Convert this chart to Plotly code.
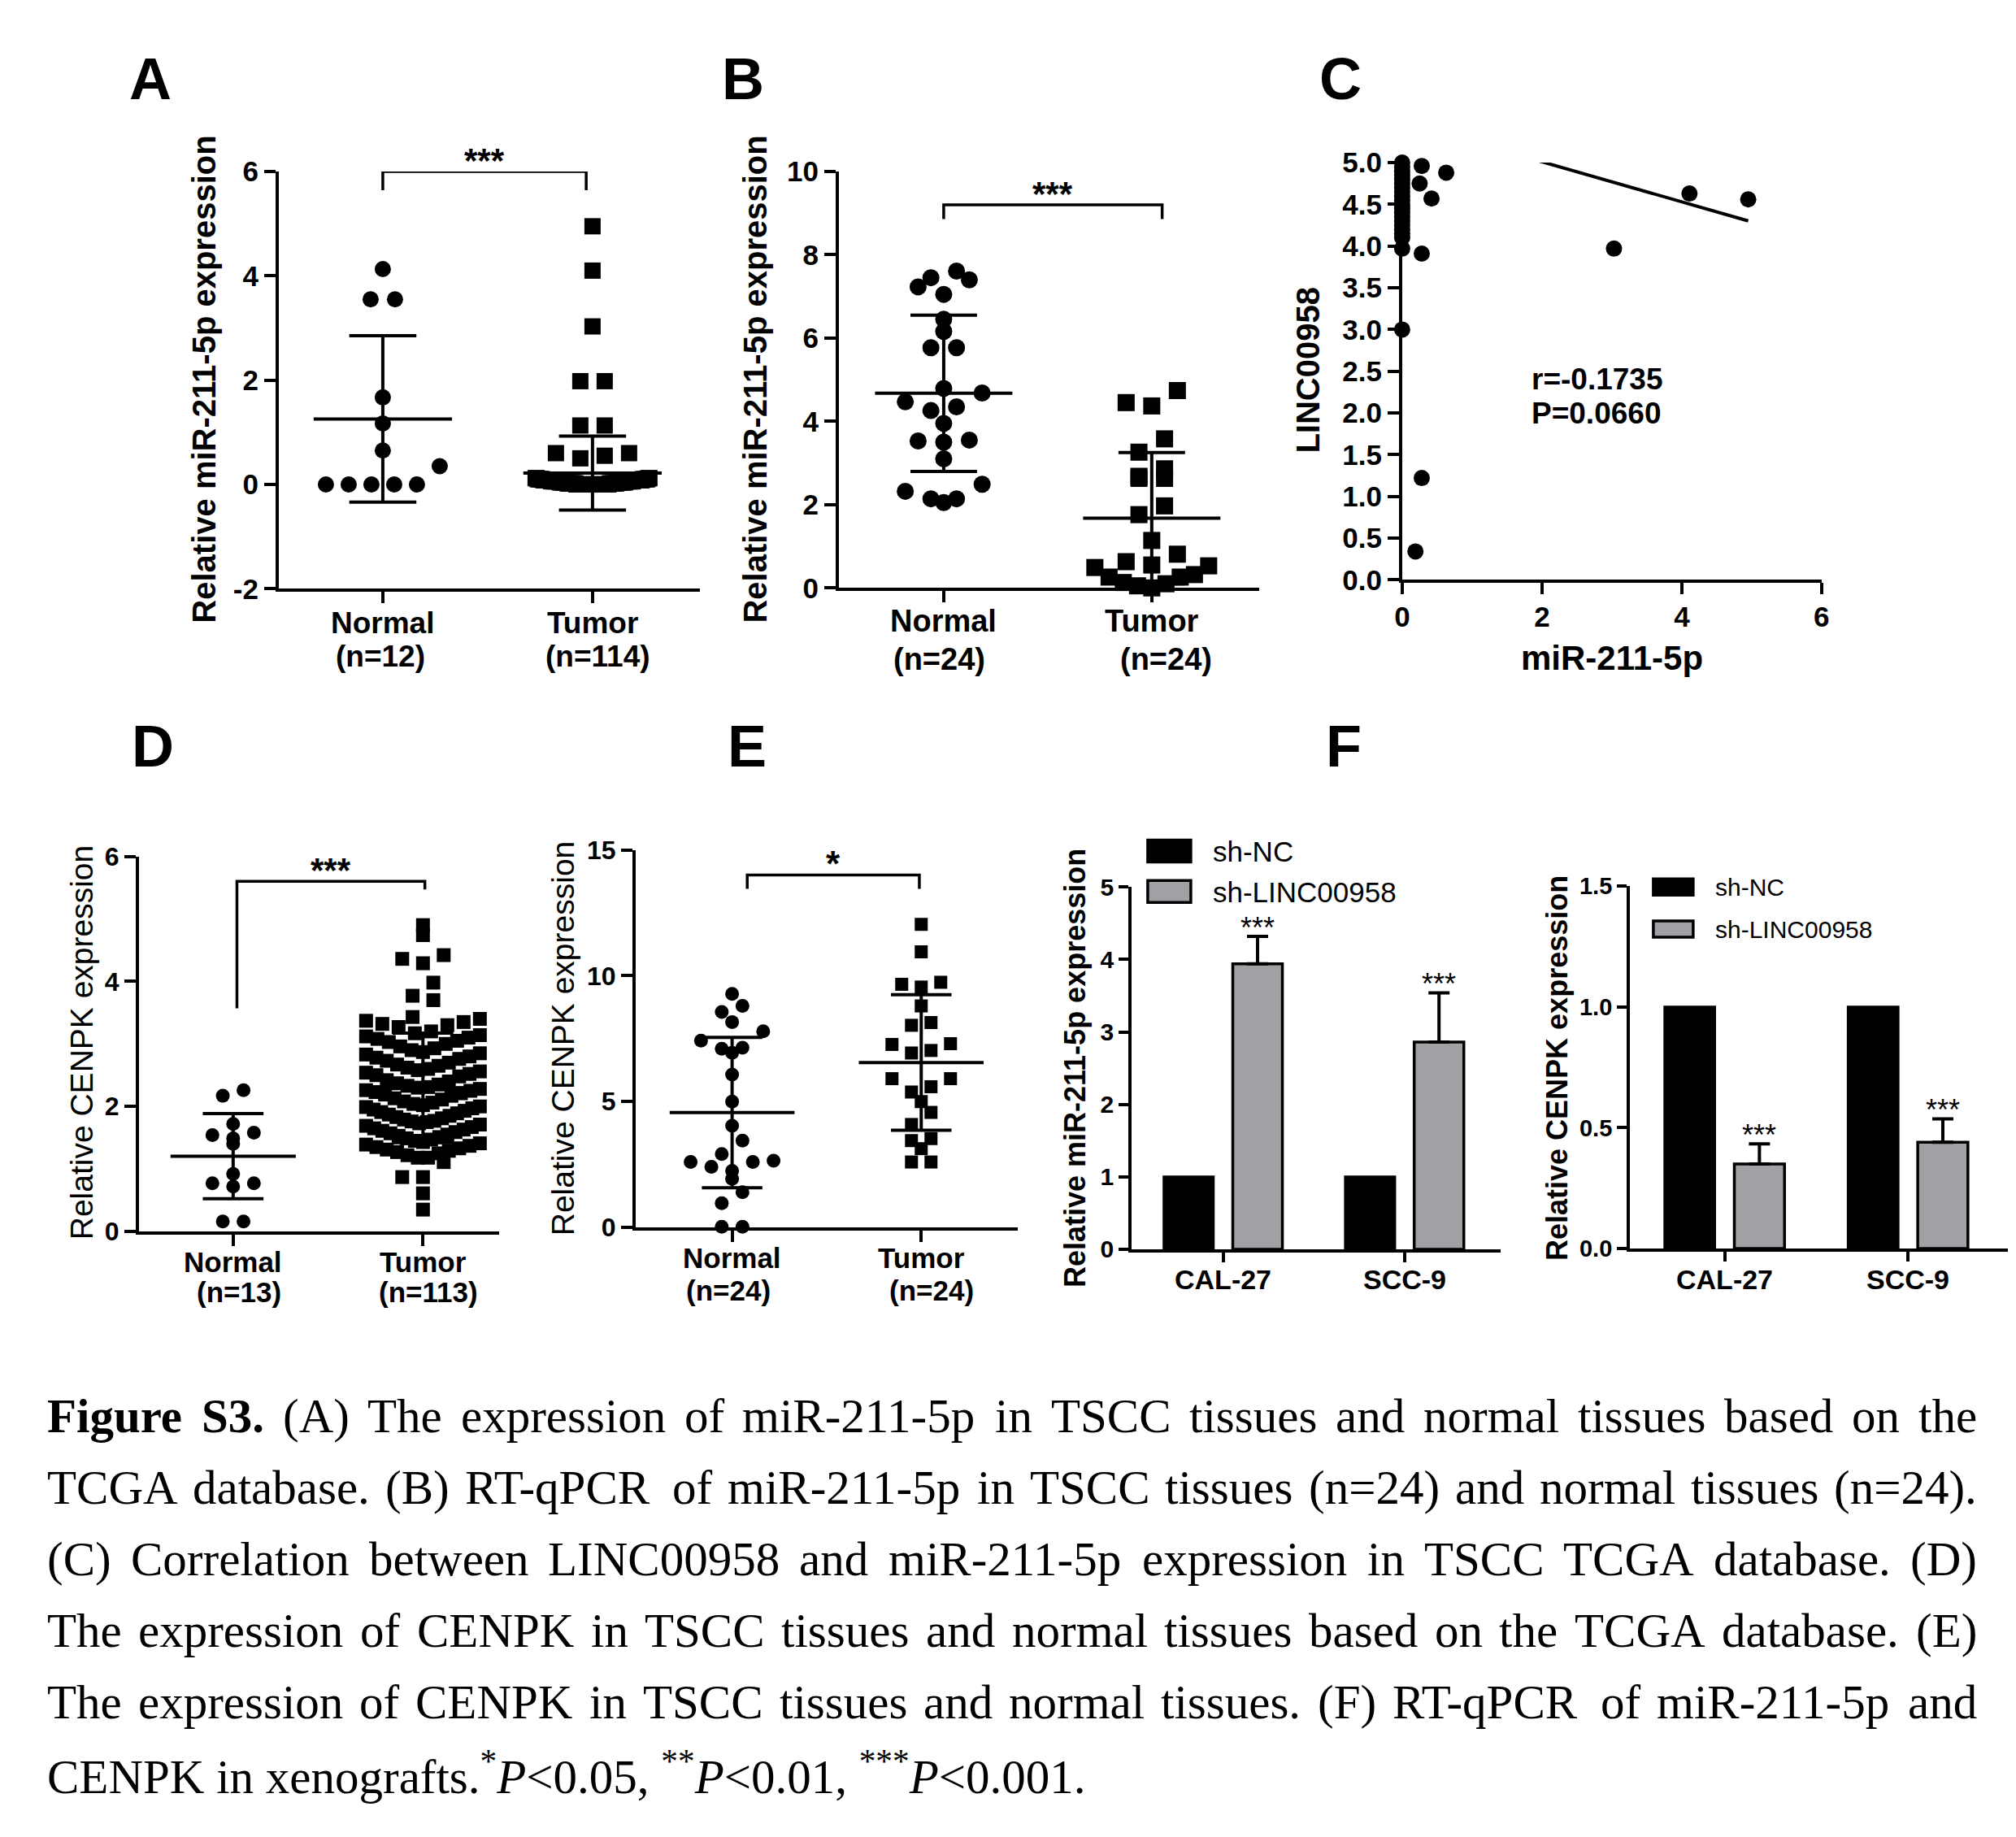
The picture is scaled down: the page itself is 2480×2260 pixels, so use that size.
import numpy as np
import plotly.graph_objects as go

W, H = 2480, 2260
SANS = "Liberation Sans, Arial, sans-serif"
SERIF = "Liberation Serif, Times New Roman, serif"

# ---------------- data ----------------
# A  TCGA miR-211-5p
a_normal = [4.13, 3.55, 3.55, 1.67, 1.17, 0.65, 0.35, 0.0, 0.0, 0.0, 0.0, 0.0]
a_tumor = [4.95, 4.10, 3.03, 1.98, 1.98, 1.13, 1.13, 0.60, 0.50, 0.55, 0.60,
           0.00, 0.00, 0.00, 0.00, 0.00, 0.00, 0.00, 0.00, 0.00, 0.00,
           0.00, 0.00, 0.00, 0.00, 0.00, 0.00, 0.00, 0.00, 0.00, 0.00,
           0.00, 0.00, 0.00, 0.00, 0.00, 0.00, 0.00, 0.00, 0.00, 0.00,
           0.02, 0.02, 0.02, 0.02, 0.02, 0.02, 0.02, 0.02, 0.02, 0.02,
           0.02, 0.02, 0.02, 0.02, 0.02, 0.04, 0.04, 0.04, 0.04, 0.04,
           0.04, 0.04, 0.04, 0.04, 0.04, 0.04, 0.04, 0.04, 0.04, 0.04,
           0.06, 0.06, 0.06, 0.06, 0.06, 0.06, 0.06, 0.06, 0.06, 0.06,
           0.06, 0.06, 0.06, 0.06, 0.06, 0.08, 0.08, 0.08, 0.08, 0.08,
           0.08, 0.08, 0.08, 0.08, 0.08, 0.08, 0.08, 0.08, 0.08, 0.08,
           0.10, 0.10, 0.10, 0.10, 0.10, 0.10, 0.10, 0.10, 0.10, 0.10,
           0.12, 0.12, 0.12, 0.12]
a_groups = ["Normal", "Tumor"]
a_n = ["(n=12)", "(n=114)"]
a_yticks = ["-2", "0", "2", "4", "6"]

# B  RT-qPCR miR-211-5p
b_normal = [7.61, 7.40, 7.23, 7.45, 7.05, 6.45, 6.16, 5.77, 5.77, 4.79, 4.68, 4.47,
            4.35, 4.26, 3.95, 3.55, 3.53, 3.50, 3.10, 2.49, 2.32, 2.14, 2.05, 2.14]
b_tumor = [4.74, 4.45, 4.37, 3.58, 3.26, 2.86, 2.63, 2.63, 2.68, 1.97, 1.76, 1.14,
           0.81, 0.63, 0.55, 0.53, 0.32, 0.49, 0.26, 0.26, 0.10, 0.13, 0.00, 0.05]
b_n = ["(n=24)", "(n=24)"]

# C  correlation LINC00958 vs miR-211-5p
c_mir = [0, 0, 0, 0, 0, 0, 0, 0, 0, 0, 0, 0, 0, 0, 0, 0, 0, 0, 0, 0, 0,
         0.28, 0.63, 0.25, 0.42, 0.28, 0.28, 0.19, 3.03, 4.11, 4.95]
c_linc = [5.00, 4.95, 4.90, 4.85, 4.80, 4.75, 4.70, 4.65, 4.60, 4.55, 4.50, 4.45,
          4.40, 4.35, 4.30, 4.25, 4.20, 4.15, 4.10, 3.97, 3.00,
          4.96, 4.88, 4.75, 4.57, 3.91, 1.22, 0.34, 3.97, 4.63, 4.56]
c_fit = [5.49, -0.24]          # intercept, slope of the drawn regression line
c_stats = ["r=-0.1735", "P=0.0660"]

# D  TCGA CENPK
d_normal = [2.26, 2.17, 1.72, 1.54, 1.49, 1.58, 1.40, 0.92, 0.77, 0.72, 0.77, 0.16, 0.16]
d_tumor = [4.90, 4.74, 4.42, 4.36, 4.29, 3.98, 3.77, 3.70,
           3.43, 3.40, 3.37, 3.35, 3.32, 3.30, 3.27,
           3.20, 3.17, 3.14, 3.12, 3.10, 3.08, 3.05, 3.03, 3.00,
           2.96, 2.93, 2.90, 2.87, 2.85, 2.83, 2.80, 2.78, 2.76, 2.73,
           2.70, 2.67, 2.65, 2.62, 2.60, 2.58, 2.56, 2.54, 2.52, 2.50, 2.48,
           2.42, 2.40, 2.37, 2.35, 2.33, 2.31, 2.30, 2.28, 2.26, 2.25, 2.23, 2.21, 2.19, 2.17,
           2.13, 2.11, 2.08, 2.06, 2.04, 2.02, 2.00, 1.99, 1.97, 1.95, 1.93, 1.91, 1.89, 1.87,
           1.85, 1.83, 1.81, 1.79, 1.77, 1.76, 1.75, 1.73, 1.71, 1.69, 1.67, 1.65, 1.63,
           1.61, 1.59, 1.57, 1.55, 1.53, 1.51, 1.49, 1.47, 1.45, 1.43, 1.41, 1.39,
           1.37, 1.35, 1.33, 1.31, 1.29, 1.27, 1.25, 1.22,
           1.18, 1.18, 1.11, 0.87, 0.87, 0.61, 0.35]
d_n = ["(n=13)", "(n=113)"]

# E  CENPK tissues
e_normal = [9.28, 8.56, 8.80, 8.16, 7.79, 7.42, 7.10, 6.94, 7.14, 6.07, 5.00, 4.04,
            3.45, 2.65, 2.60, 2.25, 2.41, 2.60, 2.92, 1.93, 1.40, 0.96, 0.03, 0.03]
e_tumor = [12.04, 10.95, 9.74, 9.55, 9.66, 8.80, 8.14, 8.03, 7.27, 6.93, 7.03, 7.30,
           5.91, 5.91, 5.59, 5.38, 5.00, 4.57, 4.09, 3.13, 3.53, 3.45, 2.60, 2.60]
e_n = ["(n=24)", "(n=24)"]

# F  xenografts
f_cells = ["CAL-27", "SCC-9"]
f_groups = ["sh-NC", "sh-LINC00958"]
f1_nc = [1.0, 1.0]
f1_sh = [3.94, 2.86]
f1_sh_err = [0.38, 0.68]
f2_nc = [1.0, 1.0]
f2_sh = [0.35, 0.44]
f2_sh_err = [0.083, 0.097]

caption = [
    "Figure S3. (A) The expression of miR-211-5p in TSCC tissues and normal tissues based on the",
    "TCGA database. (B) RT-qPCR of miR-211-5p in TSCC tissues (n=24) and normal tissues (n=24).",
    "(C) Correlation between LINC00958 and miR-211-5p expression in TSCC TCGA database. (D)",
    "The expression of CENPK in TSCC tissues and normal tissues based on the TCGA database. (E)",
    "The expression of CENPK in TSCC tissues and normal tissues. (F) RT-qPCR of miR-211-5p and",
]
caption_last = ("CENPK in xenografts.<sup>*</sup><i>P</i>&lt;0.05, <sup>**</sup><i>P</i>&lt;0.01, "
                "<sup>***</sup><i>P</i>&lt;0.001.")

# ---------------- page geometry ----------------
# the rendered page comes out slightly offset/scaled; map reference pixels to figure pixels
OX, OY, SX, SY = 18, 22, 0.992, 0.988


def fx(p):
    return (p - OX) / SX


def fy(p):
    return (p - OY) / SY


# panel boxes in reference pixels: left, right, top, bottom
BOX = {
    "A": (343, 861, 206, 722), "B": (1032, 1549, 206, 721), "C": (1725, 2241, 195, 711),
    "D": (171, 614, 1053, 1517), "E": (782, 1252, 1045, 1512),
    "F1": (1392, 1846, 1091, 1539), "F2": (2005, 2470, 1090, 1538),
}
XR = {"A": [0.504, 2.512], "B": [0.496, 2.516], "C": [0, 6], "D": [0.504, 2.401],
      "E": [0.49, 2.51], "F1": [-0.505, 1.529], "F2": [-0.517, 1.544]}
YR = {"A": [-2, 6], "B": [0, 10], "C": [0, 5], "D": [0, 6], "E": [0, 15],
      "F1": [0, 5], "F2": [0, 1.5]}
AX = {"A": "", "B": "2", "C": "3", "D": "4", "E": "5", "F1": "6", "F2": "7"}


def dom(k):
    l, r, t, b = BOX[k]
    return [fx(l) / W, fx(r) / W], [1 - fy(b) / H, 1 - fy(t) / H]


def ppu(k):
    l, r, t, b = BOX[k]
    return (r - l) / (XR[k][1] - XR[k][0]), (b - t) / (YR[k][1] - YR[k][0])


def swarm(vals, k, size, max_half=70):
    # Prism-like row layout: bin by height, spread each row centre-out
    xp, yp = ppu(k)
    v = np.asarray(vals, float)
    bins = np.floor(v * yp / (1.3 * size) + 1e-6)
    off = np.zeros(len(v))
    step = 1.5 * size
    for b in np.unique(bins):
        idx = np.where(bins == b)[0]
        idx = idx[np.argsort(v[idx], kind="stable")]
        n = len(idx)
        s = step if n < 2 or (n - 1) * step <= 2 * max_half else 2 * max_half / (n - 1)
        c = (n - 1) / 2
        slots = sorted(range(n), key=lambda q: (abs(q - c), q))
        for j, q in enumerate(slots):
            off[idx[j]] = (q - c) * s
    return off / xp


fig = go.Figure()
annos = []
shapes = []


def txt(x, y, text, size, xref="paper", yref="paper", bold=True, family=SANS,
        xanchor="center", yanchor="middle", **kw):
    if xref == "paper":
        x = fx(x) / W
    if yref == "paper":
        y = 1 - fy(y) / H
    annos.append(dict(x=x, y=y, xref=xref, yref=yref, text=text, showarrow=False,
                      xanchor=xanchor, yanchor=yanchor,
                      font=dict(family=family, size=size, color="black",
                                weight="bold" if bold else "normal"), **kw))


def dot_panel(k, normal, tumor, size, sq_size):
    xa, ya = "x" + AX[k], "y" + AX[k]
    for c, vals, sym, ms in ((1, normal, "circle", size), (2, tumor, "square", sq_size)):
        xs = c + swarm(vals, k, ms)
        fig.add_trace(go.Scatter(x=xs, y=vals, mode="markers", xaxis=xa, yaxis=ya,
                                 marker=dict(symbol=sym, size=ms, color="black", line_width=0),
                                 cliponaxis=False, showlegend=False))
        m, s = np.mean(vals), np.std(vals, ddof=1)
        fig.add_trace(go.Scatter(
            x=[c - 0.33, c + 0.33, None, c - 0.16, c + 0.16, None, c - 0.16, c + 0.16, None, c, c],
            y=[m, m, None, m + s, m + s, None, m - s, m - s, None, m - s, m + s],
            mode="lines", line=dict(color="black", width=4), xaxis=xa, yaxis=ya,
            cliponaxis=False, showlegend=False))


def cat_labels(k, names, ns, y1, y2, fs, nshift):
    # two-line category labels under the x axis (name, then group size)
    xp, _ = ppu(k)
    for i, (nm, nn) in enumerate(zip(names, ns)):
        txt(i + 1, y1, nm, fs, xref="x" + AX[k])
        txt(i + 1 + nshift[i] / xp, y2, nn, fs, xref="x" + AX[k])


def bracket(k, x1, x2, y, lo1, lo2, stars, size):
    xa, ya = "x" + AX[k], "y" + AX[k]
    shapes.append(dict(type="path", xref=xa, yref=ya,
                       path=f"M {x1},{lo1} L {x1},{y} L {x2},{y} L {x2},{lo2}",
                       line=dict(color="black", width=3.5)))
    txt((x1 + x2) / 2, y, stars, size, xref=xa, yref=ya, yanchor="bottom", yshift=-12)


dot_panel("A", a_normal, a_tumor, 20, 20)
dot_panel("B", b_normal, b_tumor, 21, 21)
dot_panel("D", d_normal, d_tumor, 17, 17)
dot_panel("E", e_normal, e_tumor, 17, 16)
bracket("A", 1, 1.97, 6.0, 5.64, 5.64, "***", 42)
bracket("B", 1, 2.05, 9.2, 8.86, 8.86, "***", 42)
bracket("D", 1.02, 2.01, 5.6, 3.57, 5.47, "***", 42)
bracket("E", 1.08, 1.99, 14.0, 13.45, 13.45, "*", 44)
cat_labels("A", a_groups, a_n, 764, 806, 37, [-3, 7])
cat_labels("B", a_groups, b_n, 762, 809, 38, [-5, 18])
cat_labels("D", a_groups, d_n, 1555, 1592, 35, [7, 7])
cat_labels("E", a_groups, e_n, 1550, 1590, 35, [-5, 13])

# C scatter
fig.add_trace(go.Scatter(x=c_mir, y=c_linc, mode="markers", xaxis="x3", yaxis="y3",
                         marker=dict(size=20, color="black", line_width=0),
                         cliponaxis=False, showlegend=False))
lx = np.array([0, max(c_mir)])
fig.add_trace(go.Scatter(x=lx, y=c_fit[0] + c_fit[1] * lx, mode="lines", xaxis="x3",
                         yaxis="y3", line=dict(color="black", width=4), showlegend=False))
txt(1.83, 2.40, c_stats[0], 37, xref="x3", yref="y3", xanchor="left")
txt(1.83, 2.00, c_stats[1], 37, xref="x3", yref="y3", xanchor="left")

# F bars
BARGAP, GROUPGAP = 0.24, 0.28
boff = (1 - BARGAP) / 4
GRAY = "#a0a0a5"
for k, nc, sh, err in (("F1", f1_nc, f1_sh, f1_sh_err), ("F2", f2_nc, f2_sh, f2_sh_err)):
    xa, ya = "x" + AX[k], "y" + AX[k]
    fig.add_trace(go.Bar(x=[0, 1], y=nc, xaxis=xa, yaxis=ya, name=f_groups[0],
                         marker=dict(color="black", line=dict(color="black", width=3)),
                         showlegend=False))
    fig.add_trace(go.Bar(x=[0, 1], y=sh, xaxis=xa, yaxis=ya, name=f_groups[1],
                         marker=dict(color=GRAY, line=dict(color="black", width=3.5)),
                         error_y=dict(type="data", array=err, arrayminus=[0, 0],
                                      symmetric=False, color="black", thickness=4, width=13),
                         showlegend=False))
    for i in range(2):
        txt(i + boff, sh[i] + err[i], "***", 36, xref=xa, yref=ya, bold=False,
            yanchor="bottom", yshift=-12)
        txt(i, 1576, f_cells[i], 34, xref=xa)

# legends for F (swatch boxes + labels)
for (x0, y0, w, h, fs), (ty1, ty2) in (((1412, 1033, 53, 27, 35), (1047, 1097)),
                                        ((2034, 1081, 49, 20, 30), (1091, 1143))):
    dy = ty2 - ty1
    for j, col in enumerate(["black", GRAY]):
        yy = y0 + j * dy
        shapes.append(dict(type="rect", xref="paper", yref="paper",
                           x0=fx(x0) / W, x1=fx(x0 + w) / W,
                           y0=1 - fy(yy) / H, y1=1 - fy(yy + h) / H,
                           fillcolor=col, line=dict(color="black", width=3.5)))
        txt(x0 + w + 25, ty1 + j * dy, f_groups[j], fs, bold=False, xanchor="left")

# ---------------- axes ----------------
def axis(k, which, **kw):
    d = dict(showline=True, linecolor="black", linewidth=4, ticks="outside", ticklen=14,
             tickwidth=4, tickcolor="black", showgrid=False, zeroline=False,
             fixedrange=True, anchor=("y" if which == "x" else "x") + AX[k])
    d.update(kw)
    return d


lay = {}
tick_bold = dict(family=SANS, color="black", weight="bold")
for k, fs_y, yt in (("A", 35, [-2, 0, 2, 4, 6]), ("B", 35, [0, 2, 4, 6, 8, 10]),
                    ("D", 32, [0, 2, 4, 6]), ("E", 32, [0, 5, 10, 15])):
    xd, yd = dom(k)
    lay["xaxis" + AX[k]] = axis(k, "x", domain=xd, range=XR[k], tickvals=[1, 2],
                                showticklabels=False)
    lay["yaxis" + AX[k]] = axis(k, "y", domain=yd, range=YR[k], tickvals=yt,
                                tickfont=dict(size=fs_y, **tick_bold))
lay["yaxis"]["ticktext"] = a_yticks          # plain hyphen for -2, as in the source

xd, yd = dom("C")
lay["xaxis3"] = axis("C", "x", domain=xd, range=XR["C"], tickvals=[0, 2, 4, 6],
                     tickfont=dict(size=35, **tick_bold), ticklabelstandoff=-2)
lay["yaxis3"] = axis("C", "y", domain=yd, range=YR["C"], dtick=0.5, tick0=0,
                     tickformat=".1f", tickfont=dict(size=35, **tick_bold))

for k, fs_y, yt, fmt in (("F1", 30, [0, 1, 2, 3, 4, 5], "d"),
                         ("F2", 29, [0, 0.5, 1.0, 1.5], ".1f")):
    xd, yd = dom(k)
    lay["xaxis" + AX[k]] = axis(k, "x", domain=xd, range=XR[k], tickvals=[0, 1],
                                showticklabels=False, ticklen=12, tickwidth=3.5, linewidth=3.5)
    lay["yaxis" + AX[k]] = axis(k, "y", domain=yd, range=YR[k], tickvals=yt, tickformat=fmt,
                                tickfont=dict(size=fs_y, **tick_bold),
                                ticklen=12, tickwidth=3.5, linewidth=3.5)

# ---------------- titles / letters ----------------
for letter, x, y in (("A", 185, 91), ("B", 914, 91), ("C", 1649, 91),
                     ("D", 188, 917), ("E", 919, 917), ("F", 1653, 917)):
    txt(x, y, letter, 72)

for x, y, t, fs, b in ((251, 463, "Relative miR-211-5p expression", 40, True),
                       (929, 463, "Relative miR-211-5p expression", 40, True),
                       (1609, 451, "LINC00958", 40, True),
                       (100, 1283, "Relative CENPK expression", 39, False),
                       (692, 1278, "Relative CENPK expression", 39, False),
                       (1322, 1315, "Relative miR-211-5p expression", 36, True),
                       (1915, 1315, "Relative CENPK expression", 36, True)):
    txt(x, y, t, fs, bold=b, textangle=-90)
txt(1983, 808, "miR-211-5p", 42)

# ---------------- caption (justified like the source) ----------------
TIMES = {" ": 250, "(": 333, ")": 333, ".": 250, ",": 250, "-": 333, "=": 564, "<": 564,
         "A": 722, "B": 667, "C": 667, "D": 722, "E": 611, "F": 556, "G": 722, "I": 333,
         "K": 722, "L": 611, "N": 722, "P": 556, "Q": 722, "R": 667, "S": 556, "T": 611,
         "a": 444, "b": 500, "c": 444, "d": 500, "e": 444, "f": 333, "g": 500, "h": 500,
         "i": 278, "k": 500, "l": 278, "m": 778, "n": 500, "o": 500, "p": 500, "q": 500,
         "r": 333, "s": 389, "t": 278, "u": 500, "w": 722, "x": 500, "y": 500, "z": 444}
TIMES_B = {"F": 611, "i": 278, "g": 500, "u": 556, "r": 444, "e": 444, "S": 556, ".": 250}
CAP_FS, CAP_L, CAP_R = 59, 56, 2430


def word_w(wd, bold):
    tab = TIMES_B if bold else TIMES
    return sum(tab.get(ch, TIMES.get(ch, 500)) for ch in wd) * CAP_FS / 1000


for i, line in enumerate(caption):
    words = line.split(" ")
    bolds = [i == 0 and j < 2 for j in range(len(words))]
    widths = [word_w(wd, b) for wd, b in zip(words, bolds)]
    gap = (CAP_R - CAP_L - sum(widths)) / (len(words) - 1)
    xpos = CAP_L
    for wd, b, wdt in zip(words, bolds, widths):
        txt(xpos, 1745 + 88.4 * i, wd, CAP_FS, bold=b, family=SERIF, xanchor="left")
        xpos += wdt + gap
txt(CAP_L, 1745 + 88.4 * 5, caption_last, CAP_FS, bold=False, family=SERIF, xanchor="left")

fig.update_layout(width=W, height=H, margin=dict(l=0, r=0, t=0, b=0),
                  paper_bgcolor="white", plot_bgcolor="white", showlegend=False,
                  barmode="group", bargap=BARGAP, bargroupgap=GROUPGAP,
                  annotations=annos, shapes=shapes, **lay)

fig.write_html("out.html")
